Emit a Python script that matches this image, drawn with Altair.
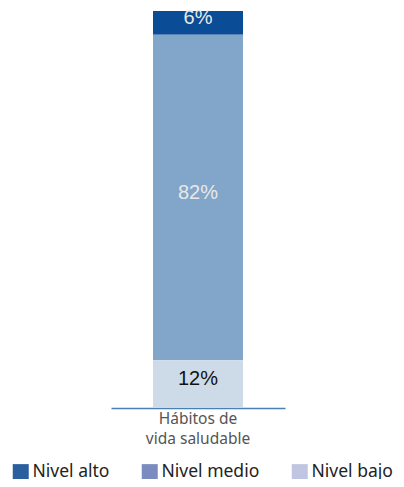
import altair as alt
import pandas as pd

categories = ["Hábitos de\nvida saludable"]
levels = ["Nivel alto", "Nivel medio", "Nivel bajo"]
values = [6, 82, 12]
stack_order = [3, 2, 1]

bar_colors = ["#0a4c96", "#82a6c9", "#cddbe8"]
legend_colors = ["#2a5f9f", "#7b8bbf", "#c0c6e1"]

df = pd.DataFrame({
    "cat": categories * len(levels),
    "level": levels,
    "value": values,
    "ord": stack_order,
})

base = alt.Chart(df)

bars = base.mark_bar(size=90).encode(
    x=alt.X("cat:N", title=None,
            axis=alt.Axis(labelExpr="split(datum.label, '\\n')", labelAngle=0,
                          ticks=False, domainColor="#4a80b8", domainWidth=1.5,
                          labelFont="Noto Sans", labelFontSize=15.5, labelColor="#555555",
                          labelLineHeight=20, labelPadding=3)),
    y=alt.Y("value:Q", stack="zero", scale=alt.Scale(domain=[0, 100], nice=False), axis=None),
    color=alt.Color("level:N", scale=alt.Scale(domain=levels, range=bar_colors), legend=None),
    order=alt.Order("ord:Q"),
)

legend_layer = base.mark_square(opacity=0, size=1).encode(
    x=alt.X("cat:N"),
    y=alt.Y("value:Q", stack="zero"),
    fill=alt.Fill("level:N", scale=alt.Scale(domain=levels, range=legend_colors),
                  sort=levels,
                  legend=alt.Legend(title=None, orient="none", direction="horizontal",
                                    legendX=-99, legendY=452, symbolType="square",
                                    symbolSize=256, symbolOpacity=1, symbolStrokeWidth=0,
                                    labelFont="Noto Sans", labelFontSize=17.5,
                                    labelColor="#222222", labelOffset=3,
                                    columnPadding=31)),
)

labels = base.transform_stack(
    stack="value", groupby=["cat"], as_=["y0", "y1"],
    sort=[alt.SortField("ord", order="ascending")],
).transform_calculate(
    mid="(datum.y0 + datum.y1) / 2",
    txt="datum.value + '%'",
).mark_text(font="Liberation Sans", fontSize=20, dy=-5).encode(
    x=alt.X("cat:N"),
    y=alt.Y("mid:Q"),
    text="txt:N",
    color=alt.condition(alt.datum.level == "Nivel bajo", alt.value("#111111"), alt.value("#e8e8e8")),
)

chart = alt.layer(bars, legend_layer, labels).resolve_scale(
    color="independent", fill="independent"
).properties(
    width=174, height=397,
    padding={"left": 103, "top": 3, "right": 111, "bottom": 71},
    autosize=alt.AutoSizeParams(type="none"),
).configure_view(stroke=None)

chart.save("out.html", embed_options={"renderer": "svg", "actions": False})
